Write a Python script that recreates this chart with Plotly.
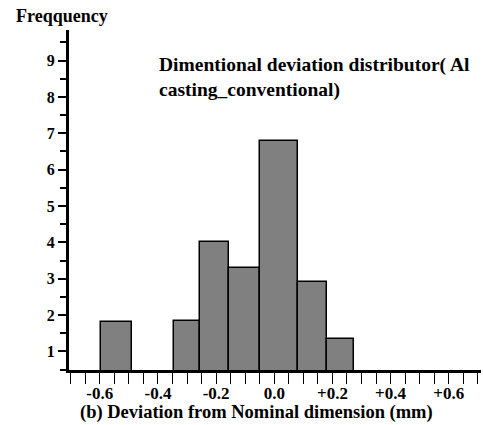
import plotly.graph_objects as go

# Histogram bins (deviation in mm) and frequencies
bin_left = [-0.595, -0.345, -0.255, -0.155, -0.05, 0.08, 0.18]
bin_right = [-0.49, -0.255, -0.155, -0.05, 0.08, 0.18, 0.275]
freq = [1.8, 1.85, 4.0, 3.3, 6.8, 2.9, 1.35]

x_tick_vals = [-0.6, -0.4, -0.2, 0.0, 0.2, 0.4, 0.6]
x_tick_text = ["-0.6", "-0.4", "-0.2", "0.0", "+0.2", "+0.4", "+0.6"]
y_tick_vals = [1, 2, 3, 4, 5, 6, 7, 8, 9]

centers = [(a + b) / 2 for a, b in zip(bin_left, bin_right)]
widths = [b - a for a, b in zip(bin_left, bin_right)]

FONT = "Liberation Serif"

fig = go.Figure()
fig.add_trace(go.Bar(
    x=centers, y=freq, width=widths,
    marker=dict(color="#808080", line=dict(color="black", width=1.5)),
    showlegend=False,
))

fig.update_layout(
    width=483, height=425,
    margin=dict(l=69, r=2, t=30, b=55),
    paper_bgcolor="white", plot_bgcolor="white",
    font=dict(family=FONT, color="black", size=16, weight="bold"),
    bargap=0,
    xaxis=dict(
        range=[-0.706, 0.711],
        showgrid=False, zeroline=False,
        showline=True, linecolor="black", linewidth=3,
        tickmode="array", tickvals=x_tick_vals, ticktext=x_tick_text,
        ticks="outside", ticklen=11, tickwidth=1, tickcolor="black",
        ticklabelstandoff=-5,
        tickfont=dict(family=FONT, size=17, weight="bold"),
        minor=dict(dtick=0.05, tick0=0, ticks="outside", ticklen=11,
                   tickwidth=1, tickcolor="black", showgrid=False),
    ),
    yaxis=dict(
        range=[0.49, 9.84],
        showgrid=False, zeroline=False,
        showline=True, linecolor="black", linewidth=3,
        tickmode="array", tickvals=y_tick_vals,
        ticks="outside", ticklen=8, tickwidth=1.5, tickcolor="black",
        tickfont=dict(family=FONT, size=16, weight="bold"),
        minor=dict(dtick=0.5, tick0=0, ticks="outside", ticklen=6,
                   tickwidth=1.5, tickcolor="black", showgrid=False),
    ),
    annotations=[
        dict(text="Freqquency", xref="paper", yref="paper",
             x=-0.133, y=1.041, xanchor="left", yanchor="middle",
             showarrow=False, font=dict(family=FONT, size=18, weight="bold")),
        dict(text="Dimentional deviation distributor( Al<br>casting_conventional)",
             xref="paper", yref="paper", x=0.214, y=0.935,
             xanchor="left", yanchor="top", align="left", showarrow=False,
             font=dict(family=FONT, size=19.5, weight="bold")),
        dict(text="(b) Deviation from Nominal dimension (mm)",
             xref="paper", yref="paper", x=0.456, y=-0.126,
             xanchor="center", yanchor="middle", showarrow=False,
             font=dict(family=FONT, size=18.5, weight="bold")),
    ],
)

fig.write_html("out.html")
